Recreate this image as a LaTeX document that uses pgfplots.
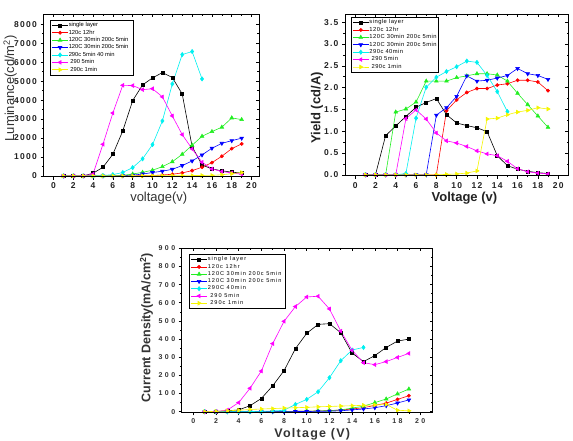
\documentclass[border=0pt]{standalone}
\usepackage{fontspec}
\setmainfont{Liberation Sans}
\usepackage{pgfplots}
\pgfplotsset{compat=1.18}
\newfontfamily\tickA[LetterSpace=15]{Liberation Sans}
\newfontfamily\tickC[LetterSpace=35]{Liberation Sans}
\newfontfamily\legA{Liberation Sans}
\newfontfamily\legB[LetterSpace=8]{Liberation Sans}
\newfontfamily\legC[LetterSpace=18]{Liberation Sans}
\newfontfamily\labC[LetterSpace=10]{Liberation Sans}
\definecolor{tk}{HTML}{222222}
\definecolor{lb}{HTML}{333333}
\definecolor{cgreen}{HTML}{22EE22}
\definecolor{cyel}{HTML}{F5F500}
\definecolor{ccyan}{HTML}{00F0F0}
\definecolor{cmag}{HTML}{FF00FF}
\definecolor{cred}{HTML}{FF0000}
\definecolor{cblue}{HTML}{0000FF}
\newcommand\lentry[2]{\makebox[#1][l]{#2}}
\pgfplotsset{
  base/.style={scale only axis, axis line style={line width=0.8pt},
    every tick/.style={line width=0.6pt, black},
    major tick length=3pt, minor tick length=1.6pt,
    xmin=-1, xmax=20.75, xtick={0,2,...,20}, minor x tick num=1,
    legend cell align=left,
    legend image code/.code={\draw[mark repeat=2,mark phase=2] plot coordinates {(0pt,0pt)(8pt,0pt)(16pt,0pt)};},
  },
  main/.style={base, tick align=outside, xtick pos=left, ytick pos=left},
  mirror/.style={base, tick align=inside, xtick pos=right, ytick pos=right, xticklabels={}, yticklabels={}},
  s1/.style={black, line width=0.6pt, mark=square*, mark size=1.5pt},
  s2/.style={cred, line width=0.6pt, mark=*, mark size=1.6pt},
  s3/.style={cgreen, line width=0.6pt, mark=triangle*, mark size=2.1pt},
  s4/.style={cblue, line width=0.6pt, mark=triangle*, mark size=2.1pt, mark options={rotate=180}},
  s5/.style={ccyan, line width=0.6pt, mark=diamond*, mark size=2.1pt},
  s6/.style={cmag, line width=0.6pt, mark=triangle*, mark size=2.1pt, mark options={rotate=90}},
  s7/.style={cyel, line width=0.6pt, mark=triangle*, mark size=2.1pt, mark options={rotate=-90}},
  lg/.style={anchor=north west, draw=black, line width=0.6pt, inner xsep=1.5pt, inner ysep=1.8pt,
    row sep=0.9pt, nodes={inner sep=0.4pt}},
}
\begin{document}
\begin{tikzpicture}
\useasboundingbox (0pt,0pt) rectangle (573pt,440pt);
% ---------------- Plot 1: Luminance
\begin{axis}[main, at={(43.5pt,263.5pt)}, anchor=south west, width=215.5pt, height=162.5pt,
  ymin=-30, ymax=8540, ytick={0,1000,...,8000}, minor y tick num=1,
  scaled y ticks=false, yticklabel style={/pgf/number format/1000 sep={}},
  ticklabel style={font=\tickA\bfseries\fontsize{8.5}{9}\selectfont, text=tk},
  /pgf/number format/assume math mode=true,
  xlabel={voltage(v)}, ylabel={Luminance(cd/m\textsuperscript{2})},
  label style={font=\fontsize{13}{14}\selectfont, text=lb},
  xlabel style={at={(axis description cs:0.535,-0.135)}, anchor=center},
  ylabel style={at={(axis description cs:-0.155,0.543)}, anchor=center},
  legend style={lg, at={(axis description cs:0.03,0.963)}, font=\legA\fontsize{5.8}{6}\selectfont},
]
\addplot[s1] coordinates {(1,0)(2,0)(3,0)(4,140)(5,457)(6,1143)(7,2373)(8,3973)(9,4800)(10,5170)(11,5450)(12,5190)(13,4325)(14,1547)(15,580)(16,370)(17,270)(18,200)(19,150)};
\addlegendentry{\lentry{63pt}{single layer}}
\addplot[s2] coordinates {(1,0)(2,0)(3,0)(4,0)(5,0)(6,0)(7,0)(8,5)(9,10)(10,20)(11,50)(12,90)(13,160)(14,280)(15,460)(16,700)(17,1040)(18,1440)(19,1690)};
\addlegendentry{120c 12hr}
\addplot[s3] coordinates {(1,0)(2,0)(3,0)(4,0)(5,0)(6,10)(7,30)(8,100)(9,190)(10,300)(11,490)(12,750)(13,1140)(14,1620)(15,2090)(16,2340)(17,2570)(18,3060)(19,2970)};
\addlegendentry{120C 30min 200c 5min}
\addplot[s4] coordinates {(1,0)(2,0)(3,0)(4,0)(5,0)(6,0)(7,10)(8,40)(9,100)(10,180)(11,250)(12,350)(13,545)(14,790)(15,1110)(16,1460)(17,1720)(18,1860)(19,1990)};
\addlegendentry{120C 30min 200c 5min}
\addplot[s5] coordinates {(1,0)(2,0)(3,0)(4,0)(5,20)(6,70)(7,180)(8,440)(9,900)(10,1650)(11,2900)(12,4850)(13,6400)(14,6560)(15,5115)};
\addlegendentry{290c 5min 40 min}
\addplot[s6] coordinates {(1,0)(2,0)(3,0)(4,100)(5,1670)(6,3320)(7,4780)(8,4765)(9,4550)(10,4600)(11,4170)(12,3165)(13,2180)(14,1425)(15,720)(16,370)(17,230)(18,160)(19,90)};
\addlegendentry{\ 290 5min}
\addplot[s7] coordinates {(1,0)(2,0)(3,0)(4,0)(5,0)(6,0)(7,0)(8,5)(9,5)(10,10)(11,10)(12,15)(13,15)(14,20)(15,25)(16,30)(17,60)(18,120)(19,180)};
\addlegendentry{\ 290c 1min}
\end{axis}
\begin{axis}[mirror, at={(43.5pt,263.5pt)}, anchor=south west, width=215.5pt, height=162.5pt,
  ymin=-30, ymax=8540, ytick={0,1000,...,8000}, minor y tick num=1]
\end{axis}
% ---------------- Plot 2: Yield
\begin{axis}[main, at={(345pt,264.3pt)}, anchor=south west, width=223.3pt, height=161.7pt,
  xmax=21, ymin=-0.02, ymax=3.69, ytick={0,0.5,...,3.5}, minor y tick num=1,
  yticklabel style={/pgf/number format/.cd, fixed, fixed zerofill, precision=1},
  ticklabel style={font=\tickA\bfseries\fontsize{8.5}{9}\selectfont, text=tk},
  /pgf/number format/assume math mode=true,
  xlabel={Voltage (v)}, ylabel={Yield (cd/A)},
  label style={font=\bfseries\fontsize{13}{14}\selectfont, text=tk},
  xlabel style={at={(axis description cs:0.535,-0.14)}, anchor=center},
  ylabel style={at={(axis description cs:-0.125,0.42)}, anchor=center},
  legend style={lg, at={(axis description cs:0.0255,0.98)}, font=\legB\fontsize{5.8}{6}\selectfont},
]
\addplot[s1] coordinates {(1,0)(2,0)(3,0.90)(4,1.12)(5,1.34)(6,1.55)(7,1.66)(8,1.75)(9,1.38)(10,1.19)(11,1.13)(12,1.08)(13,0.99)(14,0.44)(15,0.21)(16,0.13)(17,0.08)(18,0.05)(19,0.03)};
\addlegendentry{\lentry{65pt}{single layer}}
\addplot[s2] coordinates {(1,0)(2,0)(3,0)(4,0)(5,0)(6,0)(7,0)(8,0)(9,1.47)(10,1.72)(11,1.89)(12,1.98)(13,1.98)(14,2.06)(15,2.09)(16,2.17)(17,2.17)(18,2.13)(19,1.93)};
\addlegendentry{120c 12hr}
\addplot[s3] coordinates {(1,0)(2,0)(3,0)(4,1.44)(5,1.51)(6,1.67)(7,2.15)(8,2.15)(9,2.15)(10,2.23)(11,2.27)(12,2.32)(13,2.32)(14,2.29)(15,2.15)(16,1.87)(17,1.61)(18,1.35)(19,1.09)};
\addlegendentry{120C 30min 200c 5min}
\addplot[s4] coordinates {(1,0)(2,0)(3,0)(4,0)(5,0)(6,0)(7,0)(8,1.37)(9,1.54)(10,1.80)(11,2.27)(12,2.15)(13,2.17)(14,2.22)(15,2.28)(16,2.44)(17,2.32)(18,2.28)(19,2.19)};
\addlegendentry{120C 30min 200c 5min}
\addplot[s5] coordinates {(1,0)(2,0)(3,0)(4,0)(5,0.03)(6,1.30)(7,2.01)(8,2.24)(9,2.37)(10,2.48)(11,2.61)(12,2.58)(13,2.28)(14,1.91)(15,1.45)};
\addlegendentry{290c 40min}
\addplot[s6] coordinates {(1,0)(2,0)(3,0)(4,0)(5,1.29)(6,1.49)(7,1.28)(8,0.96)(9,0.78)(10,0.73)(11,0.65)(12,0.55)(13,0.48)(14,0.44)(15,0.31)(16,0.14)(17,0.07)(18,0.04)(19,0.02)};
\addlegendentry{\ 290 5min}
\addplot[s7] coordinates {(1,0)(2,0)(3,0)(4,0)(5,0)(6,0)(7,0)(8,0)(9,0.01)(10,0.02)(11,0.04)(12,0.09)(13,1.28)(14,1.30)(15,1.38)(16,1.44)(17,1.48)(18,1.54)(19,1.51)};
\addlegendentry{\ 290c 1min}
\end{axis}
\begin{axis}[mirror, at={(345pt,264.3pt)}, anchor=south west, width=223.3pt, height=161.7pt,
  xmax=21, ymin=-0.02, ymax=3.69, ytick={0,0.5,...,3.5}, minor y tick num=1]
\end{axis}
% ---------------- Plot 3: Current density
\begin{axis}[main, at={(181.7pt,27.7pt)}, anchor=south west, width=251pt, height=164pt,
  xmin=-1.02, xmax=21.1, ymin=-3.3, ymax=900, ytick={0,100,...,900}, minor y tick num=1,
  ticklabel style={font=\tickC\bfseries\fontsize{7}{8}\selectfont, text=lb},
  /pgf/number format/assume math mode=true,
  xlabel={\labC Voltage (V)}, ylabel={Current Density(mA/cm\textsuperscript{2})},
  label style={font=\bfseries\fontsize{12.5}{13}\selectfont, text=lb},
  xlabel style={at={(axis description cs:0.52,-0.132)}, anchor=center},
  ylabel style={at={(axis description cs:-0.14,0.517)}, anchor=center},
  legend style={lg, at={(axis description cs:0.029,0.963)}, font=\legC\fontsize{5.6}{6}\selectfont},
]
\addplot[s1] coordinates {(1,0)(2,0)(3,5)(4,10)(5,33)(6,73)(7,143)(8,226)(9,347)(10,432)(11,481)(12,485)(13,435)(14,323)(15,276)(16,309)(17,354)(18,389)(19,400)};
\addlegendentry{\lentry{76pt}{single layer}}
\addplot[s2] coordinates {(1,0)(2,0)(3,0)(4,0)(5,0)(6,0)(7,0)(8,1)(9,2)(10,3)(11,4)(12,6)(13,9)(14,15)(15,22)(16,35)(17,47)(18,68)(19,88)};
\addlegendentry{120c 12hr}
\addplot[s3] coordinates {(1,0)(2,0)(3,0)(4,0)(5,0)(6,0)(7,0)(8,1)(9,2)(10,3)(11,4)(12,6)(13,10)(14,20)(15,30)(16,50)(17,70)(18,98)(19,125)};
\addlegendentry{120C 30min 200c 5min}
\addplot[s4] coordinates {(1,0)(2,0)(3,0)(4,0)(5,0)(6,0)(7,0)(8,0)(9,1)(10,1)(11,2)(12,3)(13,5)(14,10)(15,15)(16,22)(17,33)(18,48)(19,65)};
\addlegendentry{120C 30min 200c 5min}
\addplot[s5] coordinates {(1,0)(2,0)(3,0)(4,0)(5,1)(6,2)(7,4)(8,8)(9,40)(10,68)(11,110)(12,187)(13,281)(14,340)(15,354)};
\addlegendentry{290C 40min}
\addplot[s6] coordinates {(1,0)(2,1)(3,9)(4,50)(5,129)(6,224)(7,375)(8,498)(9,579)(10,632)(11,636)(12,566)(13,444)(14,338)(15,270)(16,259)(17,276)(18,299)(19,321)};
\addlegendentry{\ 290 5min}
\addplot[s7] coordinates {(1,0)(2,2)(3,5)(4,8)(5,12)(6,15)(7,17)(8,20)(9,22)(10,24)(11,27)(12,29)(13,31)(14,33)(15,35)(16,37)(17,40)(18,8)(19,5)};
\addlegendentry{\ 290c 1min}
\end{axis}
\begin{axis}[mirror, at={(181.7pt,27.7pt)}, anchor=south west, width=251pt, height=164pt,
  xmin=-1.02, xmax=21.1, ymin=-3.3, ymax=900, ytick={0,100,...,900}, minor y tick num=1]
\end{axis}
\end{tikzpicture}
\end{document}
